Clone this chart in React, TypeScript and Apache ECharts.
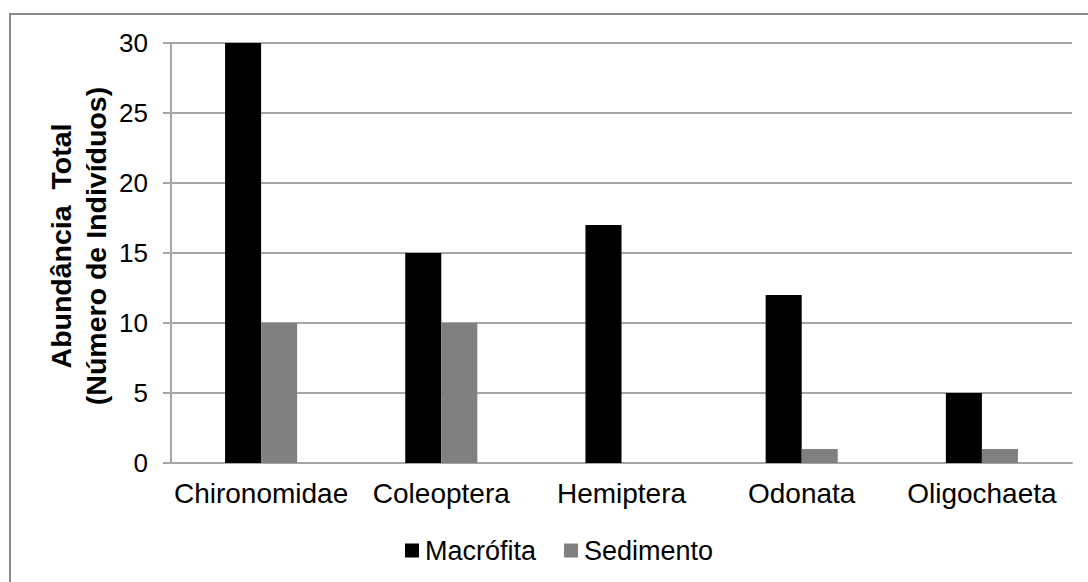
import React, { useEffect, useRef } from "react";
import * as echarts from "echarts";

const categories = ["Chironomidae", "Coleoptera", "Hemiptera", "Odonata", "Oligochaeta"];
const macrofita = [30, 15, 17, 12, 5];
const sedimento = [10, 10, 0, 1, 1];
const seriesNames = ["Macrófita", "Sedimento"];
const yTitleLines = ["Abundância  Total", "(Número de Indivíduos)"];

const FONT = "'Liberation Sans', Arial, sans-serif";

export default function App() {
  const ref = useRef<HTMLDivElement>(null);
  useEffect(() => {
    if (!ref.current) return;
    const chart = echarts.init(ref.current, undefined, { renderer: "svg" });
    chart.setOption({
      animation: false,
      backgroundColor: "#ffffff",
      textStyle: { fontFamily: FONT },
      grid: { left: 171, right: 16, top: 43, bottom: 119, containLabel: false },
      legend: {
        left: 400,
        top: 532,
        itemWidth: 14,
        itemHeight: 14,
        itemGap: 28,
        icon: "rect",
        data: seriesNames,
        textStyle: { fontSize: 27, color: "#000", fontFamily: FONT, padding: [0, 0, 0, 1] },
      },
      xAxis: {
        type: "category",
        data: categories,
        axisLine: { show: true, lineStyle: { color: "#a6a6a6", width: 2 } },
        axisTick: { show: false },
        axisLabel: { color: "#000", fontSize: 28, margin: 16, fontFamily: FONT, interval: 0 },
      },
      yAxis: {
        type: "value",
        min: 0,
        max: 30,
        interval: 5,
        axisLine: { show: true, lineStyle: { color: "#a6a6a6", width: 2 } },
        axisTick: { show: true, length: 8, lineStyle: { color: "#a6a6a6", width: 2 } },
        splitLine: { show: true, lineStyle: { color: "#a6a6a6", width: 2 } },
        axisLabel: { color: "#000", fontSize: 26, margin: 23, fontFamily: FONT },
      },
      series: [
        {
          name: seriesNames[0],
          type: "bar",
          data: macrofita,
          itemStyle: { color: "#000000" },
          barGap: "0%",
          barCategoryGap: "60%",
        },
        {
          name: seriesNames[1],
          type: "bar",
          data: sedimento,
          itemStyle: { color: "#808080" },
          barGap: "0%",
          barCategoryGap: "60%",
        },
      ],
      graphic: [
        {
          type: "polyline",
          shape: { points: [[10, 600], [10, 14], [1100, 14]] },
          style: { stroke: "#8a8a8a", lineWidth: 2, fill: "none" },
          silent: true,
        },
        {
          type: "text",
          x: 78,
          y: 246,
          rotation: Math.PI / 2,
          style: {
            text: yTitleLines.join("\n"),
            fontSize: 28.5,
            fontWeight: "bold",
            fontFamily: FONT,
            fill: "#000",
            align: "center",
            verticalAlign: "middle",
            lineHeight: 35,
          },
        },
      ],
    });
    return () => chart.dispose();
  }, []);
  return (
    <div
      ref={ref}
      style={{ position: "absolute", left: 0, top: 0, width: 1088, height: 582 }}
    />
  );
}
